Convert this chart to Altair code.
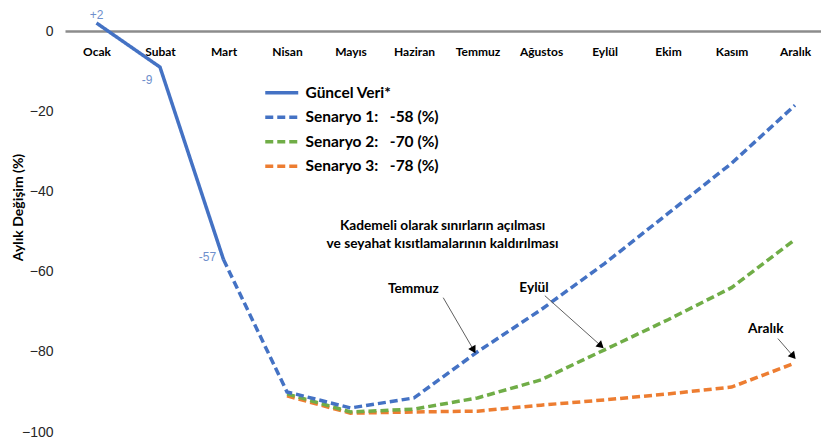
import math
import altair as alt
import pandas as pd

# ---------------- data ----------------
months = ["Ocak", "Subat", "Mart", "Nisan", "Mayıs", "Haziran", "Temmuz",
          "Ağustos", "Eylül", "Ekim", "Kasım", "Aralık"]

actual_values = [2, -9, -57]                                              # Ocak..Mart (Güncel Veri*)
scenario1 = [-57, -90, -94, -91.5, -80, -69.5, -58, -45.5, -33, -18.5]   # Mart..Aralık
scenario2 = [-90.5, -95, -94.3, -91.5, -87, -79.5, -72, -64, -52]        # Nisan..Aralık
scenario3 = [-91, -95.3, -95, -94.8, -93.3, -92, -90.5, -88.8, -82.8]    # Nisan..Aralık

legend_names = ["Güncel Veri*", "Senaryo 1:", "Senaryo 2:", "Senaryo 3:"]
legend_pct = ["", "-58 (%)", "-70 (%)", "-78 (%)"]
series_colors = ["#4472C4", "#4472C4", "#70AD47", "#ED7D31"]

point_labels = ["+2", "-9", "-57"]

note_lines = ["Kademeli olarak sınırların açılması",
              "ve seyahat kısıtlamalarının kaldırılması"]
note_x = [5.45, 5.45]
note_y = [-48.6, -53.2]

arrow_texts = ["Temmuz", "Eylül", "Aralık"]
arrow_text_x = [4.99, 6.89, 10.54]
arrow_text_y = [-64.4, -64.2, -74.3]
arrow_x1 = [5.46, 7.06, 10.73]
arrow_y1 = [-66.5, -66.0, -76.7]
arrow_x2 = [5.93, 7.93, 10.96]
arrow_y2 = [-79.3, -78.3, -80.9]

# --------------- tables ---------------
labels = [n + ("\u2003" + p if p else "") for n, p in zip(legend_names, legend_pct)]

rows = []
groups = [(labels[3], scenario3, 3), (labels[2], scenario2, 3),
          (labels[1], scenario1, 2), (labels[0], actual_values, 0)]
for name, vals, start in groups:
    for j, v in enumerate(vals):
        rows.append({"x": j + start, "y": v, "series": name})
lines_df = pd.DataFrame(rows)

PX_X = 63.5
PX_Y = 4.01
arrows = []
for a, b, c, d in zip(arrow_x1, arrow_y1, arrow_x2, arrow_y2):
    dx = (c - a) * PX_X
    dy = -(d - b) * PX_Y
    ang = math.degrees(math.atan2(dx, -dy)) % 360
    arrows.append({"x": a, "y": b, "x2": c, "y2": d, "angle": ang})
arrows_df = pd.DataFrame(arrows)
arrow_txt_df = pd.DataFrame({"x": arrow_text_x, "y": arrow_text_y, "t": arrow_texts})
note_df = pd.DataFrame({"x": note_x, "y": note_y, "t": note_lines})

# --------------- scales / axes ---------------
month_js = "[" + ",".join("'" + m + "'" for m in months) + "]"
xscale = alt.Scale(domain=[-0.496, 11.409], nice=False, zero=False)
yscale = alt.Scale(domain=[-100, 5], nice=False, zero=False)

xaxis = alt.Axis(
    values=list(range(12)), labelExpr=month_js + "[datum.value]",
    offset=-401, grid=False, ticks=False, tickSize=0, domain=True,
    domainColor="#8c8c8c", domainWidth=2.5, labelPadding=15,
    labelFont="Lato", labelFontWeight="bold", labelFontSize=12,
    labelColor="#000000", labelFlush=False, labelOverlap=False, title=None,
)
yaxis = alt.Axis(
    values=[0, -20, -40, -60, -80, -100], grid=False, ticks=False, tickSize=0,
    domain=False, labelPadding=12, labelFont="Liberation Sans",
    labelFontSize=14, labelColor="#262626",
    title="Aylık Değişim  (%)", titleFont="Lato", titleFontWeight="bold",
    titleFontSize=14, titleColor="#000000", titleX=-47, titleY=196,
    titleBaseline="middle", titleAlign="center", titleAngle=-90,
)

X = alt.X("x:Q", scale=xscale, axis=xaxis)
Y = alt.Y("y:Q", scale=yscale, axis=yaxis)

legend_kw = dict(
    title=None, orient="none", legendX=209, legendY=74,
    symbolType="M-4,0H4", symbolSize=68, symbolStrokeWidth=3.5,
    labelFont="Lato", labelFontWeight="bold", labelFontSize=15.5,
    labelColor="#000000", labelOffset=16, padding=0,
    rowPadding=7.5, labelLimit=400,
)

base = alt.Chart(lines_df).mark_line(strokeWidth=3.5).encode(
    x=X, y=Y,
    color=alt.Color("series:N", scale=alt.Scale(domain=labels, range=series_colors),
                    sort=labels, legend=alt.Legend(**legend_kw)),
    strokeDash=alt.StrokeDash("series:N",
                              scale=alt.Scale(domain=labels,
                                              range=[[1, 0], [8, 4], [8, 4], [8, 4]]),
                              sort=labels, legend=alt.Legend(**legend_kw)),
    order=alt.Order("x:Q"),
)
# draw order: Senaryo 3, Senaryo 2, Senaryo 1, Güncel Veri (on top)
line_layers = [base.transform_filter(alt.datum.series == lab)
               for lab in [labels[3], labels[2], labels[1], labels[0]]]

actual_df = pd.DataFrame({"x": [0, 1, 2], "y": actual_values, "t": point_labels})
lbl_style = dict(font="Liberation Sans", fontSize=12, color="#6f8fcc")
lab0 = alt.Chart(actual_df.iloc[[0]]).mark_text(dy=-8, **lbl_style).encode(x=X, y=Y, text="t:N")
lab1 = alt.Chart(actual_df.iloc[[1]]).mark_text(dx=-13, dy=13, **lbl_style).encode(x=X, y=Y, text="t:N")
lab2 = alt.Chart(actual_df.iloc[[2]]).mark_text(dx=-16, dy=-3, **lbl_style).encode(x=X, y=Y, text="t:N")

note = alt.Chart(note_df).mark_text(font="Lato", fontWeight="bold", fontSize=13.7,
                                    color="#000000").encode(x=X, y=Y, text="t:N")
arrow_txt = alt.Chart(arrow_txt_df).mark_text(font="Lato", fontWeight="bold", fontSize=13.7,
                                              color="#000000").encode(x=X, y=Y, text="t:N")
arrow_lines = alt.Chart(arrows_df).mark_rule(color="#606060", strokeWidth=1).encode(
    x=X, y=Y, x2="x2:Q", y2="y2:Q")
arrow_heads = alt.Chart(arrows_df).mark_point(shape="triangle", filled=True, size=70,
                                              color="#000000", opacity=1).encode(
    x=alt.X("x2:Q", scale=xscale, axis=xaxis), y=alt.Y("y2:Q", scale=yscale, axis=yaxis),
    angle=alt.Angle("angle:Q", scale=None))

chart = alt.layer(*line_layers, lab0, lab1, lab2, note, arrow_lines, arrow_heads,
                  arrow_txt).properties(
    width=756, height=421,
    autosize=alt.AutoSizeParams(type="none"),
    padding={"left": 57, "top": 3, "right": 0, "bottom": 8},
    background="#ffffff",
).configure_view(stroke=None)

chart.save("out.html", embed_options={"renderer": "svg", "actions": False})
